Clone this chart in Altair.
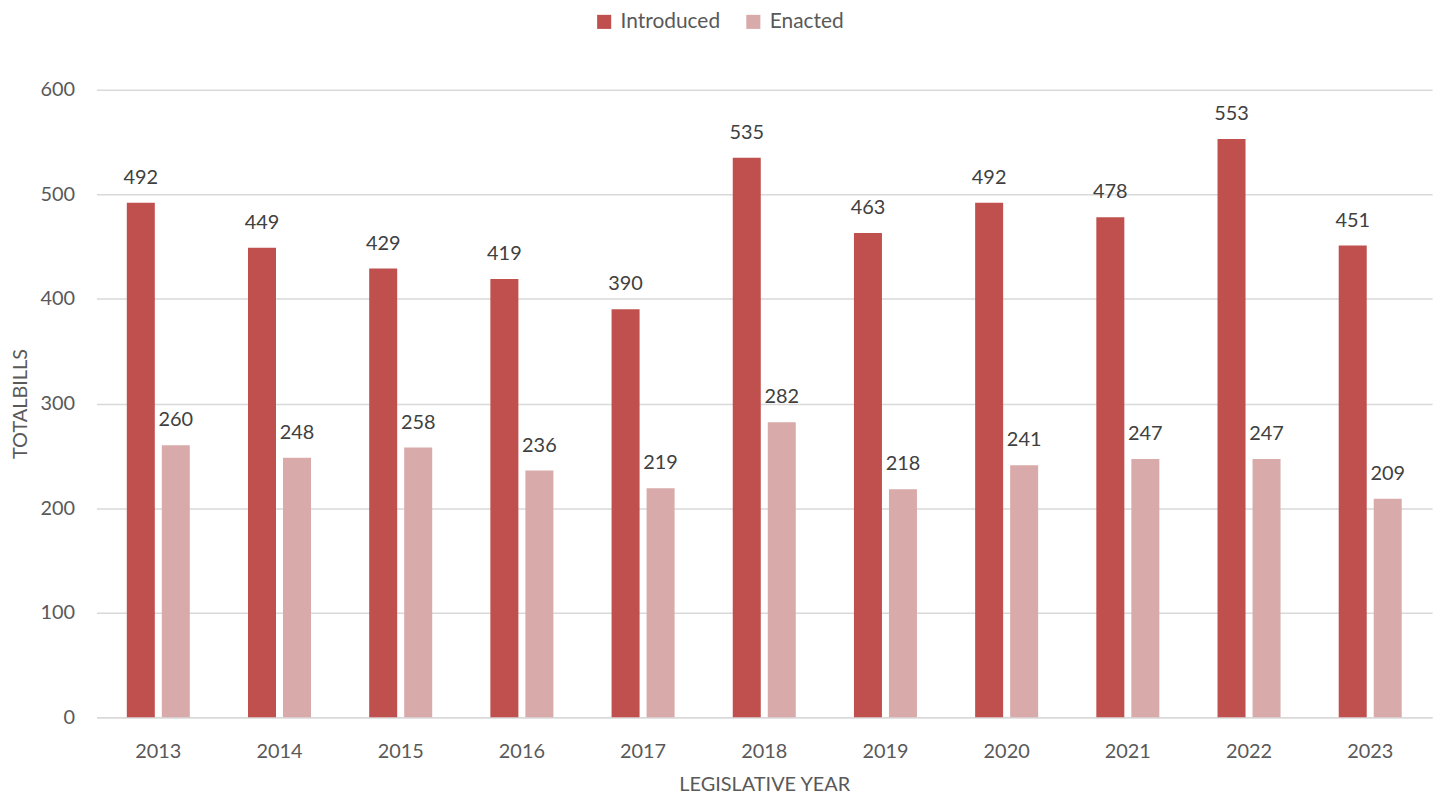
import altair as alt
import pandas as pd

years = ["2013", "2014", "2015", "2016", "2017", "2018", "2019", "2020", "2021", "2022", "2023"]
introduced = [492, 449, 429, 419, 390, 535, 463, 492, 478, 553, 451]
enacted = [260, 248, 258, 236, 219, 282, 218, 241, 247, 247, 209]
series = ["Introduced", "Enacted"]
colors = ["#C0504D", "#D9AAAA"]

rows = []
for y, a, b in zip(years, introduced, enacted):
    rows.append({"year": y, "series": series[0], "value": a})
    rows.append({"year": y, "series": series[1], "value": b})
df = pd.DataFrame(rows)

FONT = "Lato"

x = alt.X("year:N", title="LEGISLATIVE YEAR",
          scale=alt.Scale(paddingInner=0.48, paddingOuter=0.25),
          axis=alt.Axis(labelAngle=0, labelPadding=24, titlePadding=14, ticks=False,
                        domainColor="#D9D9D9", domainWidth=1.5))
xo = alt.XOffset("series:N", sort=series, scale=alt.Scale(paddingInner=0.2, paddingOuter=0))
yenc = alt.Y("value:Q", title="TOTALBILLS",
             scale=alt.Scale(domain=[0, 600]),
             axis=alt.Axis(values=[0, 100, 200, 300, 400, 500, 600], ticks=False, domain=False,
                           labelPadding=22, titlePadding=10, gridColor="#D9D9D9", gridWidth=1.5))
color = alt.Color("series:N", sort=series,
                  scale=alt.Scale(domain=series, range=colors),
                  legend=alt.Legend(title=None, orient="none", direction="horizontal",
                                    legendX=500, legendY=-79, symbolType="square",
                                    symbolSize=200, symbolStrokeWidth=0, labelFontSize=21,
                                    labelColor="#595959", labelFont=FONT, columnPadding=22,
                                    labelOffset=6))

base = alt.Chart(df).encode(x=x, xOffset=xo, y=yenc)
bars = base.mark_bar().encode(color=color)
labels = base.mark_text(baseline="bottom", dy=-15, fontSize=20, font=FONT, color="#404040").encode(
    text="value:Q")

chart = (bars + labels).properties(
    width=1343, height=631,
    autosize=alt.AutoSizeParams(type="none"),
    padding={"left": 89, "top": 80, "right": 5, "bottom": 77},
).configure_view(stroke=None).configure_axis(
    labelFont=FONT, titleFont=FONT, labelFontSize=20, titleFontSize=20,
    labelColor="#595959", titleColor="#595959", titleFontWeight="normal"
)

chart.save("out.html", embed_options={"renderer": "svg", "actions": False})
